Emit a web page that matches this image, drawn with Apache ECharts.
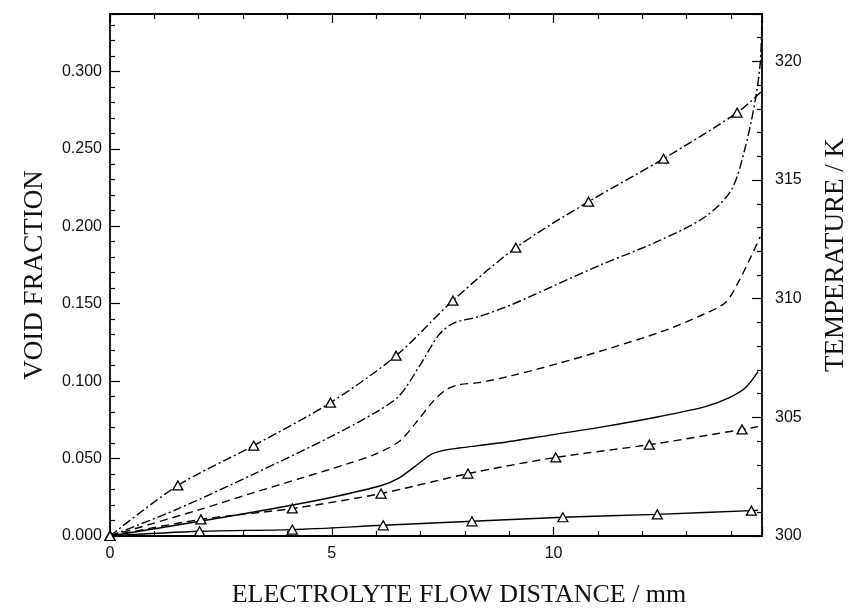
<!DOCTYPE html>
<html>
<head>
<meta charset="utf-8">
<title>Void fraction and temperature</title>
<script src="https://cdn.jsdelivr.net/npm/echarts@6/dist/echarts.min.js"></script>
<style>
  html, body { margin: 0; padding: 0; background: #fff; }
  #chart { width: 853px; height: 613px; }
</style>
</head>
<body>
<div id="chart"></div>
<script>
// void fraction curves (left axis), no markers
const dashDotX = [0, 1.53, 3.24, 4.97, 6.0, 6.52, 6.97, 7.42, 7.75, 8.3, 9.06, 10.12, 11.02, 12.37, 13.42, 14.01, 14.32, 14.55, 14.66, 14.7];
const dashDotV = [0, 0.0175, 0.0400, 0.0640, 0.0800, 0.0905, 0.1094, 0.1300, 0.1375, 0.1415, 0.1494, 0.1630, 0.1745, 0.1905, 0.2061, 0.2235, 0.2506, 0.2816, 0.3055, 0.333];

const dashedX = [0, 2.02, 3.24, 4.27, 5.40, 6.0, 6.52, 6.90, 7.26, 7.58, 7.87, 8.32, 9.06, 10.12, 11.17, 12.43, 13.26, 13.87, 14.16, 14.45, 14.66];
const dashedV = [0, 0.0170, 0.0280, 0.0370, 0.0470, 0.0530, 0.0610, 0.0732, 0.0861, 0.0945, 0.0977, 0.0990, 0.1035, 0.1115, 0.1203, 0.1319, 0.1416, 0.1506, 0.1635, 0.1803, 0.1932];

const solidX = [0, 2.02, 3.24, 4.27, 5.01, 6.12, 6.52, 6.97, 7.26, 7.58, 7.87, 8.77, 9.89, 11.17, 12.37, 13.42, 13.94, 14.32, 14.61];
const solidV = [0, 0.0095, 0.0155, 0.0208, 0.0250, 0.0326, 0.0375, 0.0470, 0.0530, 0.0556, 0.0568, 0.0600, 0.0650, 0.0708, 0.0770, 0.0835, 0.0890, 0.0955, 0.1061];

// temperature curves (right axis), with triangles
const tHighX = [0, 1.53, 3.24, 4.97, 6.45, 7.73, 9.15, 10.79, 12.48, 14.14, 14.68];
const tHighK = [300, 302.13, 303.81, 305.62, 307.60, 309.92, 312.15, 314.09, 315.90, 317.84, 318.72];

const tMidX = [0, 2.05, 4.11, 6.11, 8.07, 10.05, 12.16, 14.25, 14.61];
const tMidK = [300, 300.70, 301.16, 301.79, 302.63, 303.31, 303.85, 304.49, 304.61];

const tLowX = [0, 2.02, 4.11, 6.16, 8.16, 10.21, 12.34, 14.46, 14.61];
const tLowK = [300, 300.20, 300.27, 300.45, 300.62, 300.79, 300.91, 301.07, 301.08];

const xMax = 14.7, vMax = 0.337, tMin = 300, tMax = 322;

const sans = 'Liberation Sans';
const serif = 'Liberation Serif';
const ink = '#111';
const dashDot = [9, 3, 2, 3];
const dash = [8, 5];

function pairs(xs, ys) {
  return xs.map((x, i) => [x, ys[i]]);
}

// triangles on every point but the last
function marked(xs, ys) {
  return xs.map((x, i) => i === xs.length - 1 ? { value: [x, ys[i]], symbol: 'none' } : [x, ys[i]]);
}

function curve(data, type, yIdx, withMarks) {
  return {
    type: 'line',
    data: data,
    yAxisIndex: yIdx,
    smooth: 0.3,
    showSymbol: !!withMarks,
    symbol: withMarks ? 'triangle' : 'none',
    symbolSize: [10, 9],
    itemStyle: { color: '#fff', borderColor: '#000', borderWidth: 1.3 },
    lineStyle: { color: '#000', width: 1.4, type: type },
    silent: true
  };
}

const axisLine = { show: true, onZero: false, lineStyle: { color: '#000', width: 1.8 } };
const tickStyle = { color: '#000', width: 1.2 };

const chart = echarts.init(document.getElementById('chart'));
chart.setOption({
  animation: false,
  backgroundColor: '#fff',
  // fixed plot box, no auto shrinking for the outer titles
  grid: { left: 110, right: 91, top: 14, bottom: 77, containLabel: false, outerBoundsMode: 'none' },
  xAxis: [{
    type: 'value', min: 0, max: xMax, interval: 5,
    axisLine: axisLine,
    axisTick: { inside: true, length: 9, lineStyle: tickStyle },
    minorTick: { show: true, splitNumber: 5, length: 5, lineStyle: tickStyle },
    axisLabel: { showMaxLabel: false, color: ink, fontFamily: sans, fontSize: 16, margin: 10 },
    splitLine: { show: false },
    name: 'ELECTROLYTE FLOW DISTANCE / mm',
    nameLocation: 'middle', nameGap: 46,
    nameTextStyle: { color: ink, fontFamily: serif, fontSize: 26, padding: [0, 0, 0, 46] }
  }, {
    type: 'value', position: 'top', min: 0, max: xMax, interval: 5,
    axisLine: axisLine,
    axisTick: { inside: true, length: 9, lineStyle: tickStyle },
    minorTick: { show: true, splitNumber: 5, length: 5, lineStyle: tickStyle },
    axisLabel: { show: false },
    splitLine: { show: false }
  }],
  yAxis: [{
    type: 'value', min: 0, max: vMax, interval: 0.05,
    axisLine: axisLine,
    axisTick: { inside: true, length: 10, lineStyle: tickStyle },
    minorTick: { show: true, splitNumber: 5, length: 5, lineStyle: tickStyle },
    axisLabel: { showMaxLabel: false, color: ink, fontFamily: sans, fontSize: 16, margin: 8,
      formatter: v => v.toFixed(3) },
    splitLine: { show: false },
    name: 'VOID FRACTION',
    nameLocation: 'middle', nameGap: 62, nameRotate: 90,
    nameTextStyle: { color: ink, fontFamily: serif, fontSize: 27 }
  }, {
    type: 'value', position: 'right', min: tMin, max: tMax, interval: 5,
    axisLine: axisLine,
    axisTick: { inside: true, length: 10, lineStyle: tickStyle },
    minorTick: { show: true, splitNumber: 5, length: 5, lineStyle: tickStyle },
    axisLabel: { showMaxLabel: false, color: ink, fontFamily: sans, fontSize: 16, margin: 13 },
    splitLine: { show: false },
    name: 'TEMPERATURE / K',
    nameLocation: 'middle', nameGap: 60, nameRotate: 90,
    nameTextStyle: { color: ink, fontFamily: serif, fontSize: 27, padding: [0, 0, 0, 40] }
  }],
  series: [
    curve(pairs(dashDotX, dashDotV), dashDot, 0, false),
    curve(pairs(dashedX, dashedV), dash, 0, false),
    curve(pairs(solidX, solidV), 'solid', 0, false),
    curve(marked(tHighX, tHighK), dashDot, 1, true),
    curve(marked(tMidX, tMidK), dash, 1, true),
    curve(marked(tLowX, tLowK), 'solid', 1, true)
  ]
});
</script>
</body>
</html>
